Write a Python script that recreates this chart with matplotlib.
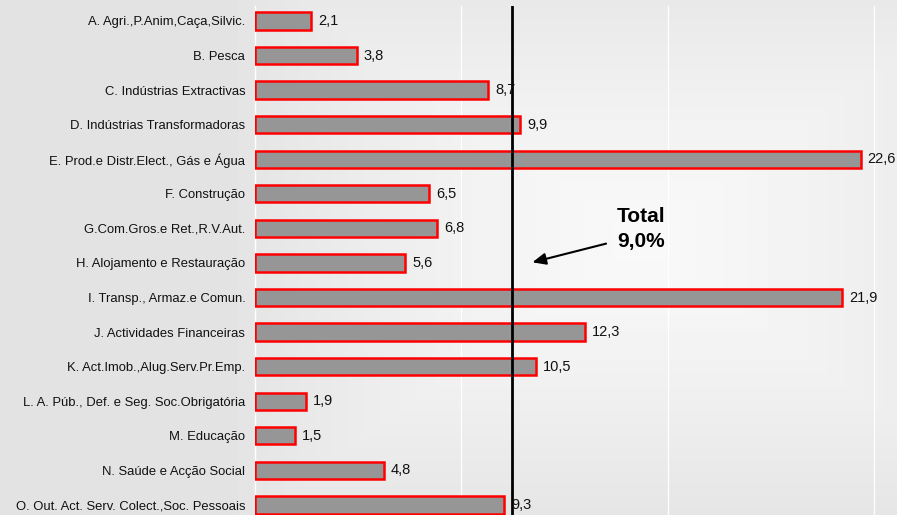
import matplotlib
matplotlib.use("Agg")
import matplotlib.pyplot as plt
import numpy as np
from matplotlib.ticker import MultipleLocator

plt.rcParams["font.family"] = ["Liberation Sans", "DejaVu Sans"]

# ── data ────────────────────────────────────────────────────────────
categories = [
    "A. Agri.,P.Anim,Caça,Silvic.",
    "B. Pesca",
    "C. Indústrias Extractivas",
    "D. Indústrias Transformadoras",
    "E. Prod.e Distr.Elect., Gás e Água",
    "F. Construção",
    "G.Com.Gros.e Ret.,R.V.Aut.",
    "H. Alojamento e Restauração",
    "I. Transp., Armaz.e Comun.",
    "J. Actividades Financeiras",
    "K. Act.Imob.,Alug.Serv.Pr.Emp.",
    "L. A. Púb., Def. e Seg. Soc.Obrigatória",
    "M. Educação",
    "N. Saúde e Acção Social",
    "O. Out. Act. Serv. Colect.,Soc. Pessoais",
]
values = [2.1, 3.8, 8.7, 9.9, 22.6, 6.5, 6.8, 5.6, 21.9, 12.3, 10.5, 1.9, 1.5, 4.8, 9.3]
total_label = "Total\n9,0%"
total_line_x = 9.6   # where the hand-drawn total line sits in the original

W, H = 897, 515
fig = plt.figure(figsize=(W / 100, H / 100), dpi=100)
fig.patch.set_facecolor("#e3e3e3")

# background: soft rectangular gradient, lighter toward the middle
bg = fig.add_axes([0, 0, 1, 1], zorder=0)
bg.axis("off")
yy, xx = np.mgrid[0:H, 0:W]
t = np.maximum(np.abs(xx - 640) / 420.0, np.abs(yy - 240) / 300.0)
t = np.clip(t, 0, 1)
shade = 0.975 - 0.085 * t ** 1.3
bg.imshow(shade, cmap="gray", vmin=0, vmax=1, extent=(0, W, H, 0), aspect="auto",
          interpolation="bilinear")
bg.set_xlim(0, W)
bg.set_ylim(H, 0)

left, top = 255, 6
ax = fig.add_axes([left / W, 0, (W - left) / W, (H - top) / H], zorder=1)
ax.patch.set_alpha(0)

y = np.arange(len(categories))
ax.barh(y, values, height=0.5, color="#969696", edgecolor="#ff0000", lw=1.8, zorder=3)
for yi, v in zip(y, values):
    ax.annotate(f"{v:.1f}".replace(".", ","), (v, yi), xytext=(5, 0),
                textcoords="offset points", va="center", ha="left",
                fontsize=10.5, color="#111111", zorder=5)

px_per_unit = 26.8
ax.set_xlim(0, (W - left) / px_per_unit)
ax.set_ylim((H - 21) / 34.57, (top - 21) / 34.57)
ax.set_yticks(y, categories, fontsize=9.4, color="#111111")
ax.tick_params(axis="y", length=0, pad=7)
ax.tick_params(axis="x", length=0, labelbottom=False)
ax.xaxis.set_major_locator(MultipleLocator(7.7))
ax.grid(axis="x", color="white", lw=0.9, zorder=1)
for s in ("top", "right", "bottom"):
    ax.spines[s].set_visible(False)
ax.spines["left"].set_color("white")
ax.spines["left"].set_linewidth(0.9)

# total marker line and callout
ax.axvline(total_line_x, color="black", lw=2, zorder=4)
ax.text(14.4, 6.02, total_label, ha="center", va="center", fontsize=15,
        fontweight="bold", linespacing=1.45, zorder=5)
ax.annotate("", xy=(10.25, 7.0), xytext=(13.2, 6.42),
            arrowprops=dict(arrowstyle="-|>,head_length=0.8,head_width=0.35",
                            color="black", lw=1.5), zorder=5)

fig.savefig("out.png", dpi=100, facecolor=fig.get_facecolor())
